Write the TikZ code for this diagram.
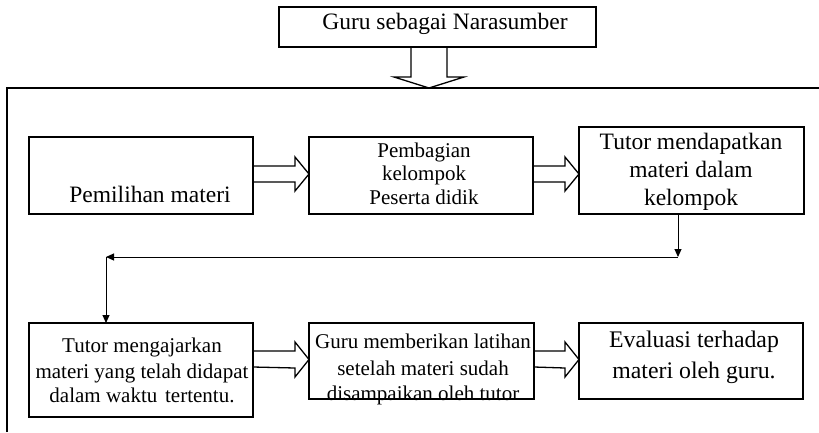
\documentclass[tikz,border=0pt]{standalone}
\usepackage{fontspec}
\setmainfont{Liberation Serif}
\usetikzlibrary{arrows.meta,calc}
\begin{document}
\begin{tikzpicture}[x=1pt,y=-1pt,
  box/.style={draw,line width=1.6pt,rectangle,inner sep=0pt,outer sep=0pt},
  txtA/.style={inner sep=0pt,anchor=base,font=\fontsize{23.5}{28}\selectfont},
  txtB/.style={inner sep=0pt,anchor=base,font=\fontsize{21}{25}\selectfont},
  hollow/.style={draw,line width=1.3pt,line join=miter},
  link/.style={draw,line width=1pt,-{Triangle[length=8pt,width=7pt]}},
  frame/.style={draw,line width=1.6pt}]
\useasboundingbox (0,0) rectangle (819,432);
% frame
\coordinate (fbl) at (7,432);
\coordinate (ftl) at (7,88);
\coordinate (ftr) at (819,88);
\draw[frame] (fbl) -- (ftl) -- (ftr);
% boxes
\node[box,minimum width=317pt,minimum height=40pt] (tb) at (437.5,27) {};
\node[box,minimum width=224pt,minimum height=77pt] (b1) at (141,175.5) {};
\node[box,minimum width=224pt,minimum height=77pt] (b2) at (421,175.5) {};
\node[box,minimum width=225pt,minimum height=87pt] (b3) at (691.5,170.5) {};
\node[box,minimum width=224pt,minimum height=94pt] (b4) at (141,370) {};
\node[box,minimum width=225pt,minimum height=76pt] (b5) at (421.5,361) {};
\node[box,minimum width=224pt,minimum height=76pt] (b6) at (691,361) {};
% texts
\node[txtB,font=\fontsize{23.5}{28}\selectfont] (ttb) at (445,29) {Guru sebagai Narasumber};
\node[txtA] (t1) at (150,202) {Pemilihan materi};
\node[txtB] (t2a) at (424,157) {Pembagian};
\node[txtB] (t2b) at (424,180) {kelompok};
\node[txtB] (t2c) at (424,204) {Peserta didik};
\node[txtA] (t3a) at (691,149) {Tutor mendapatkan};
\node[txtA] (t3b) at (691,177) {materi dalam};
\node[txtA] (t3c) at (691,205) {kelompok};
\node[txtB] (t4a) at (142,352) {Tutor mengajarkan};
\node[txtB] (t4b) at (142,378) {materi yang telah didapat};
\node[txtB] (t4c) at (142,402) {dalam waktu\hspace{0.12em} tertentu.};
\node[txtB] (t5a) at (423,348) {Guru memberikan latihan};
\node[txtB] (t5b) at (423,375) {setelah materi sudah};
\node[txtB] (t5c) at (423,400) {disampaikan oleh tutor};
\node[txtA,font=\fontsize{23.8}{28}\selectfont] (t6a) at (694,347) {Evaluasi terhadap};
\node[txtA,font=\fontsize{23.8}{28}\selectfont] (t6b) at (694,378) {materi oleh guru.};
% top hollow arrow
\draw[hollow] ($(tb.south)+(-26.5,0)$) -- ++(0,30) -- ++(-17,0) -- ++(35,11)
  -- ++(35,-11) -- ++(-17,0) -- ++(0,-30);
% hollow arrows between boxes
\draw[hollow] ($(b1.east)+(0,-9.5)$) -- ($(b2.west)+(-14,-9.5)$) -- ++(0,-9) -- ($(b2.west)+(0,-1.5)$)
  -- ($(b2.west)+(-14,15.5)$) -- ++(0,-9) -- ($(b1.east)+(0,6.5)$);
\draw[hollow] ($(b2.east)+(0,-9.5)$) -- ($(b3.west |- b2.east)+(-14,-9.5)$) -- ++(0,-9) -- ($(b3.west |- b2.east)+(0,-1.5)$)
  -- ($(b3.west |- b2.east)+(-14,15.5)$) -- ++(0,-9) -- ($(b2.east)+(0,6.5)$);
\draw[hollow] ($(b4.east |- b5.west)+(0,-10)$) -- ($(b5.west)+(-14,-10)$) -- ++(0,-9) -- ($(b5.west)+(0,-1.5)$)
  -- ($(b5.west)+(-14,16)$) -- ++(0,-9) -- ($(b4.east |- b5.west)+(0,6)$);
\draw[hollow] ($(b5.east)+(0,-10)$) -- ($(b6.west)+(-14,-10)$) -- ++(0,-9) -- ($(b6.west)+(0,-1.5)$)
  -- ($(b6.west)+(-14,16)$) -- ++(0,-9) -- ($(b5.east)+(0,6)$);
% thin connectors
\coordinate (c1) at (678,257);
\coordinate (c2) at (106,257);
\draw[link] (b3.south -| c1) -- (c1);
\draw[link] (c1) -- (c2);
\draw[link] (c2) -- (c2 |- b4.north);
\end{tikzpicture}
\end{document}
